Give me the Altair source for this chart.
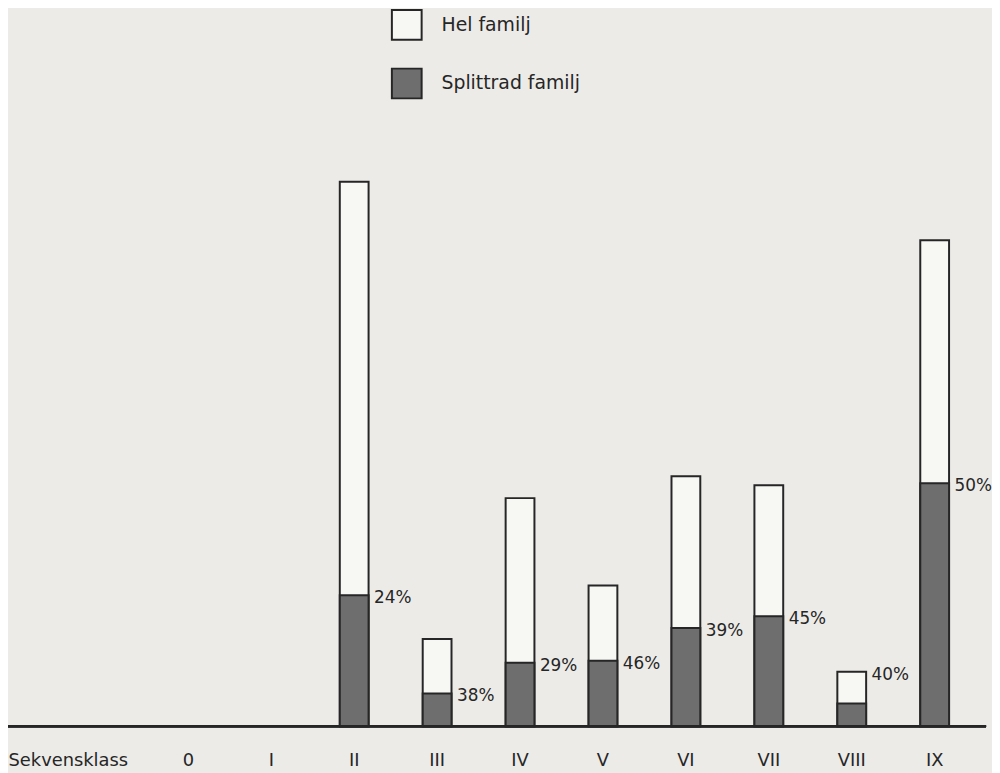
import altair as alt
import pandas as pd

# Categories on the x axis
categories = ["0", "I", "II", "III", "IV", "V", "VI", "VII", "VIII", "IX"]
# Classes that have bars
bar_classes = ["II", "III", "IV", "V", "VI", "VII", "VIII", "IX"]
# Bar heights (arbitrary units)
hel_familj = [549, 88, 230, 142, 252, 243, 55, 490]
splittrad_familj = [132, 33, 64, 66, 99, 111, 23, 245]
# Percent labels and which bar top they sit beside
pct_labels = ["24%", "38%", "29%", "46%", "39%", "45%", "40%", "50%"]
label_anchor = ["split", "split", "split", "split", "split", "split", "total", "split"]

series_names = ["Hel familj", "Splittrad familj"]

rows = []
for c, h, s in zip(bar_classes, hel_familj, splittrad_familj):
    rows.append({"klass": c, "serie": series_names[0], "v": h})
    rows.append({"klass": c, "serie": series_names[1], "v": s})
bars_df = pd.DataFrame(rows)

lab_df = pd.DataFrame({
    "klass": bar_classes,
    "label": pct_labels,
    "ly": [s if a == "split" else h for h, s, a in zip(hel_familj, splittrad_familj, label_anchor)],
})

FONT = "DejaVu Sans"
INK = "#262626"
LEFT = 140
W = 836
H = 721

x = alt.X(
    "klass:N",
    sort=categories,
    scale=alt.Scale(domain=categories, paddingInner=0.6527, paddingOuter=0.32635),
    axis=alt.Axis(
        title="Sekvensklass",
        titleFont=FONT, titleFontSize=18, titleFontWeight="normal", titleColor=INK,
        titleAnchor="start", titleAlign="left", titleBaseline="alphabetic",
        titleX=-LEFT, titleY=40,
        labelFont=FONT, labelFontSize=18, labelColor=INK, labelAngle=0,
        labelPadding=40, labelBaseline="alphabetic",
        ticks=False, tickSize=0,
        domain=False,
        grid=False,
    ),
)
yscale = alt.Scale(domain=[0, H], nice=False, zero=True)

fill = alt.Fill(
    "serie:N",
    scale=alt.Scale(domain=series_names, range=["#f7f7f4", "#6e6e6e"]),
    legend=alt.Legend(
        title=None, orient="none", legendX=394 - 8 - LEFT, legendY=-2, padding=0,
        symbolType="square", symbolSize=900, symbolStrokeColor=INK, symbolStrokeWidth=2,
        symbolOpacity=1,
        rowPadding=21, labelOffset=19,
        labelFont=FONT, labelFontSize=19, labelColor=INK, labelLimit=300,
    ),
)

base = alt.Chart(bars_df)
hel = base.transform_filter(alt.datum.serie == series_names[0]).mark_bar(
    stroke=INK, strokeWidth=2, opacity=1
).encode(x=x, y=alt.Y("v:Q", scale=yscale, axis=None), fill=fill)
split = base.transform_filter(alt.datum.serie == series_names[1]).mark_bar(
    stroke=INK, strokeWidth=2, opacity=1
).encode(x=x, y=alt.Y("v:Q", scale=yscale, axis=None), fill=fill)

labels = alt.Chart(lab_df).mark_text(
    align="left", baseline="middle", dx=20, dy=3, font=FONT, fontSize=17, color=INK
).encode(x=x, y=alt.Y("ly:Q", scale=yscale, axis=None), text="label:N")

baseline = alt.Chart(lab_df).mark_rule(color=INK, strokeWidth=2).encode(
    x=alt.value(-LEFT), x2=alt.value(W + 10), y=alt.value(H)
)

chart = alt.layer(hel, split, labels, baseline).properties(
    width=W, height=H,
    padding={"left": LEFT, "top": 0, "right": 16, "bottom": 44},
    autosize="none", background="#ecebe7",
).configure_view(stroke=None)

chart.save("out.html", embed_options={"renderer": "svg", "actions": False})
